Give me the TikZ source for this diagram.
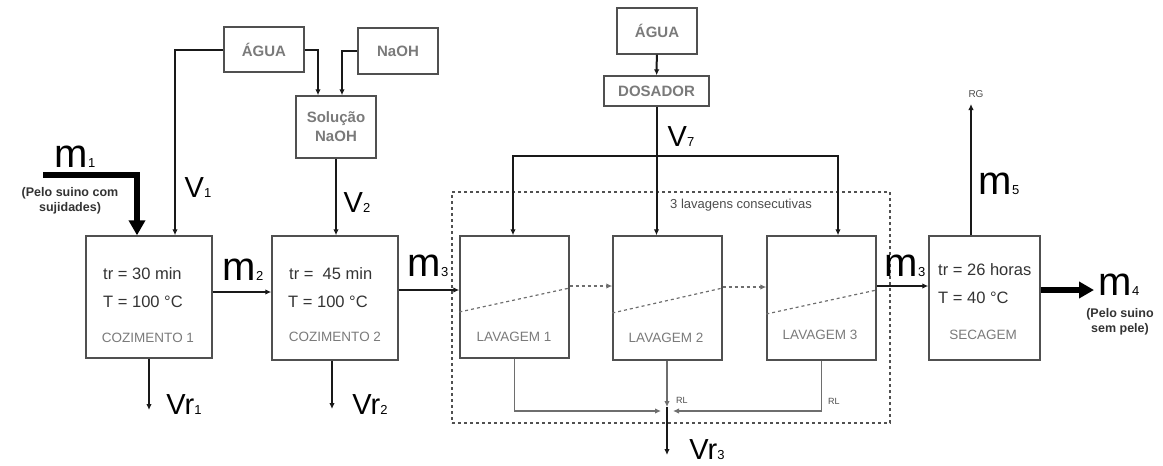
\documentclass[tikz,border=0pt]{standalone}
\usepackage{fontspec}
\setmainfont{Liberation Sans}
\usetikzlibrary{positioning, arrows.meta}

\definecolor{boxgray}{HTML}{505050}
\definecolor{txtgray}{HTML}{7A7A7A}
\definecolor{draingray}{HTML}{6E6E6E}

\newcommand{\sub}[1]{{\fontsize{13}{13}\selectfont #1}}

\begin{document}
\begin{tikzpicture}[x=1pt, y=-1pt,
    box/.style={draw=boxgray, line width=1.4pt, minimum width=126pt,
                minimum height=122pt, inner sep=0pt},
    wash/.style={box, minimum width=109pt},
    src/.style={draw=boxgray, line width=1.4pt, text=txtgray, align=center,
                font=\fontsize{15}{19}\selectfont\bfseries, inner sep=0pt},
    info/.style={anchor=west, inner sep=0pt, font=\fontsize{16.5}{16.5}\selectfont, text=black!80},
    unitlbl/.style={inner sep=0pt, text=txtgray, font=\fontsize{13.5}{13.5}\selectfont},
    flow/.style={inner sep=0pt, font=\fontsize{40}{40}\selectfont},
    vol/.style={inner sep=0pt, font=\fontsize{29}{29}\selectfont},
    note/.style={inner sep=0pt, align=center, font=\fontsize{12.5}{14.5}\selectfont\bfseries, text=black!80},
    arr/.style={-{Latex[length=6pt, width=5.5pt]}, line width=2pt, black!90},
    drain/.style={-{Latex[length=6pt, width=5.5pt]}, line width=1.8pt, draingray},
    dsh/.style={dashed, line width=1.2pt, draingray},
    big/.style={-{Triangle[length=15pt, width=16pt]}, line width=5.5pt}
  ]
  \useasboundingbox (0,0) rectangle (1163,466);

  % process units
  \node[box] (coz1) at (149,297) {};
  \node[box, minimum height=124pt] (coz2) at (335,298) {};
  \node[wash] (lav1) at (514.5,297) {};
  \node[wash, minimum height=124pt] (lav2) at (667.5,298) {};
  \node[wash, minimum height=124pt] (lav3) at (821.5,298) {};
  \node[box, minimum width=111pt, minimum height=124pt] (sec) at (984.5,298) {};

  % feeds
  \node[src, minimum width=80pt, minimum height=45pt] (agua1) at (264,49.5) {ÁGUA};
  \node[src, minimum width=80pt, minimum height=46pt] (naoh) at (398,51) {NaOH};
  \node[src, minimum width=80pt, minimum height=62pt] (sol) at (336,127) {Solução\\NaOH};
  \node[src, minimum width=80pt, minimum height=46pt] (agua2) at (657,31) {ÁGUA};
  \node[src, minimum width=105pt, minimum height=30pt] (dos) at (656.5,91) {DOSADOR};

  % group of washes
  \node[draw=boxgray, dashed, line width=1.2pt, minimum width=438pt,
        minimum height=231pt, inner sep=0pt] (grp) at (671,307.5) {};
  \node[inner sep=0pt, anchor=west, text=black!70,
        font=\fontsize{13}{13}\selectfont] (grplbl) at (670,205) {3 lavagens consecutivas};

  % texts in units
  \node[info] (tr1) at (103,274) {tr = 30 min};
  \node[info] (t1) at (103,302) {T = 100 °C};
  \node[unitlbl] (n1) at (148,338) {COZIMENTO 1};
  \node[info] (tr2) at (289,274) {tr =\ \ 45 min};
  \node[info] (t2) at (288,302) {T = 100 °C};
  \node[unitlbl] (n2) at (335,337) {COZIMENTO 2};
  \node[unitlbl] (nl1) at (514,337) {LAVAGEM 1};
  \node[unitlbl] (nl2) at (666,338) {LAVAGEM 2};
  \node[unitlbl] (nl3) at (820,335) {LAVAGEM 3};
  \node[info] (tr3) at (938,270) {tr = 26 horas};
  \node[info] (t3) at (938,298) {T = 40 °C};
  \node[unitlbl] (n3) at (983,335) {SECAGEM};

  % stream labels
  \node[flow] (m1) at (75,157) {m\sub{1}};
  \node[note] (m1txt) at (70,201) {(Pelo suino com\\sujidades)};
  \node[flow] (m2) at (243,270) {m\sub{2}};
  \node[flow] (m3a) at (428,266) {m\sub{3}};
  \node[flow] (m3b) at (905,266) {m\sub{3}};
  \node[flow] (m4) at (1119,285) {m\sub{4}};
  \node[note] (m4txt) at (1120,322) {(Pelo suino\\sem pele)};
  \node[flow] (m5) at (999,184) {m\sub{5}};
  \node[vol] (v1) at (198,188) {V\sub{1}};
  \node[vol] (v2) at (357,203) {V\sub{2}};
  \node[vol] (v7) at (681,137) {V\sub{7}};
  \node[vol] (vr1) at (184,405) {Vr\sub{1}};
  \node[vol] (vr2) at (370,405) {Vr\sub{2}};
  \node[vol] (vr3) at (707,450) {Vr\sub{3}};
  \node[inner sep=0pt, font=\fontsize{10}{10}\selectfont, text=black!70] (rg) at (976,94) {RG};
  \node[inner sep=0pt, anchor=west, font=\fontsize{9}{9}\selectfont, text=black!70] (rl2) at (676,400) {RL};
  \node[inner sep=0pt, anchor=west, font=\fontsize{9}{9}\selectfont, text=black!70] (rl3) at (828,401) {RL};

  % free ends
  \coordinate (m1in) at (43,175);
  \coordinate (m4out) at (1094,290);
  \coordinate (rgout) at (971,104);
  \coordinate (split) at (656.5,156);
  \coordinate (rlL) at (661,411);
  \coordinate (rlR) at (673,411);
  \coordinate (rlM) at (667,407);
  \coordinate (vr1out) at (149,410);
  \coordinate (vr2out) at (332,409);
  \coordinate (vr3out) at (667,455);

  % water and soda
  \draw[arr] (agua1.west) -| ([xshift=26pt]coz1.north);
  \draw[arr] (agua1.east) -| ([xshift=-18pt]sol.north);
  \draw[arr] (naoh.west) -| ([xshift=6pt]sol.north);
  \draw[arr] (sol.south) -- (sol.south |- coz2.north);
  \draw[arr] (agua2) -- (dos);
  \draw[arr] (dos.south) -- (dos.south |- lav2.north);
  \draw[arr] (split) -| ([xshift=-1.5pt]lav1.north);
  \draw[arr] (split) -| ([xshift=16.5pt]lav3.north);

  % main line
  \draw[big] (m1in) -| ([xshift=-12pt]coz1.north);
  \draw[arr] ([yshift=5pt]coz1.east) -- ([yshift=5pt]coz1.east -| coz2.west);
  \draw[arr] ([yshift=8pt]coz2.east) -- ([yshift=8pt]coz2.east -| lav1.west);
  \draw[arr] ([yshift=12pt]lav3.east) -- ([yshift=12pt]lav3.east -| sec.west);
  \draw[big] ([yshift=8pt]sec.east) -- (m4out);
  \draw[arr] ([xshift=-13.5pt]sec.north) -- (rgout);

  % washes
  \draw[dsh] ([yshift=-15pt]lav1.west) -- ([yshift=9pt]lav1.east);
  \draw[dsh, -{Latex[length=6pt, width=5.5pt]}] ([yshift=11pt]lav1.east) -- ([yshift=11pt]lav1.east -| lav2.west);
  \draw[dsh] ([yshift=-15pt]lav2.west) -- ([yshift=10pt]lav2.east);
  \draw[dsh, -{Latex[length=6pt, width=5.5pt]}] ([yshift=11pt]lav2.east) -- ([yshift=11pt]lav2.east -| lav3.west);
  \draw[dsh] ([yshift=-16pt]lav3.west) -- ([yshift=8pt]lav3.east);

  % residues
  \draw[arr] (coz1.south) -- (vr1out);
  \draw[arr] ([xshift=-3pt]coz2.south) -- (vr2out);
  \draw[drain] (lav1.south) |- (rlL);
  \draw[drain] (lav3.south) |- (rlR);
  \draw[drain] ([xshift=-0.5pt]lav2.south) -- (rlM);
  \draw[arr] (rlM) -- (vr3out);
\end{tikzpicture}
\end{document}
